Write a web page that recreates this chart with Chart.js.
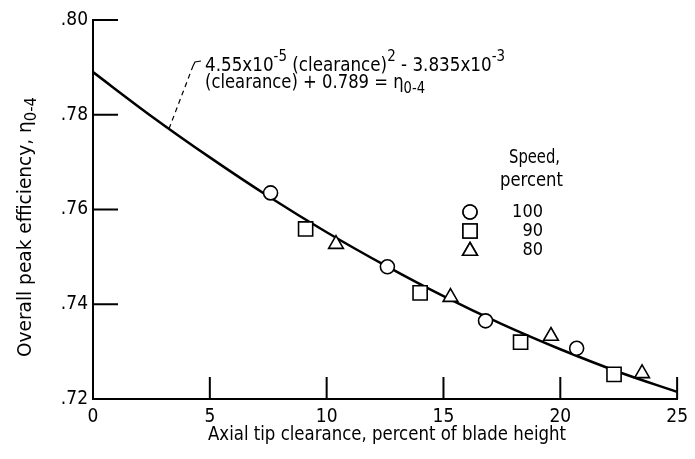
<!DOCTYPE html>
<html>
<head>
<meta charset="utf-8">
<script src="https://cdn.jsdelivr.net/npm/chart.js@4.4.1/dist/chart.umd.min.js"></script>
<style>
  html, body { margin: 0; padding: 0; background: #fff; }
  #wrap { width: 695px; height: 459px; }
</style>
</head>
<body>
<div id="wrap"><canvas id="chart" width="695" height="459"></canvas></div>
<script>
// fitted curve
const fitX = [0, 2.5, 5, 7.5, 10, 12.5, 15, 17.5, 20, 22.5, 25];
const fitY = [0.789, 0.7797, 0.7710, 0.7628, 0.7552, 0.7482, 0.7417, 0.7358, 0.7305, 0.7257, 0.7215];

// measured points by speed
const speed100X = [7.6, 12.6, 16.8, 20.7];
const speed100Y = [0.7635, 0.7479, 0.7365, 0.7307];
const speed90X = [9.1, 14.0, 18.3, 22.3];
const speed90Y = [0.7559, 0.7424, 0.7320, 0.7252];
const speed80X = [10.4, 15.3, 19.6, 23.5];
const speed80Y = [0.7527, 0.7415, 0.7333, 0.7254];

const legendLabels = ['100', '90', '80'];
const legendStyles = ['circle', 'rect', 'triangle'];
const legendRadius = [7, 10, 8.5];

const xTicks = [0, 5, 10, 15, 20, 25];
const yTicks = [0.72, 0.74, 0.76, 0.78, 0.80];

const FONT = '"DejaVu Sans Condensed", "Liberation Sans", sans-serif';

function pts(xs, ys) {
    return xs.map((x, i) => ({ x: x, y: ys[i] }));
}

function richWidth(ctx, parts, size) {
    let w = 0;
    parts.forEach(p => {
        const s = p.sup || p.sub ? size * 0.8 : size;
        ctx.font = s + 'px ' + FONT;
        w += ctx.measureText(p.t).width;
    });
    return w;
}

// draw normal / superscript / subscript pieces squeezed to a given width
function richText(ctx, parts, x, y, size, width) {
    const natural = richWidth(ctx, parts, size);
    const k = width ? width / natural : 1;
    ctx.save();
    ctx.translate(x, y);
    ctx.scale(k, 1);
    let cx = 0;
    parts.forEach(p => {
        const s = p.sup || p.sub ? size * 0.8 : size;
        ctx.font = s + 'px ' + FONT;
        let dy = 0;
        if (p.sup) dy = -size * 0.45;
        if (p.sub) dy = size * 0.3;
        ctx.fillText(p.t, cx, dy);
        cx += ctx.measureText(p.t).width;
    });
    ctx.restore();
}

const decor = {
    id: 'decor',
    afterDraw(chart) {
        const ctx = chart.ctx;
        const xs = chart.scales.x;
        const ys = chart.scales.y;
        const area = chart.chartArea;
        ctx.save();
        ctx.strokeStyle = '#000';
        ctx.fillStyle = '#000';

        // inner tick marks
        ctx.lineWidth = 2;
        ctx.beginPath();
        yTicks.slice(1).forEach(v => {
            const py = ys.getPixelForValue(v);
            ctx.moveTo(area.left, py);
            ctx.lineTo(area.left + 25, py);
        });
        xTicks.slice(1).forEach(v => {
            const px = xs.getPixelForValue(v);
            ctx.moveTo(px, area.bottom);
            ctx.lineTo(px, area.bottom - 22);
        });
        ctx.stroke();

        // dashed leader to the curve
        const lx = xs.getPixelForValue(3.25);
        const ly = ys.getPixelForValue(0.7770);
        ctx.lineWidth = 1.2;
        ctx.setLineDash([5, 4]);
        ctx.beginPath();
        ctx.moveTo(lx, ly);
        ctx.lineTo(193, 66);
        ctx.stroke();
        ctx.setLineDash([]);
        ctx.beginPath();
        ctx.moveTo(193, 66);
        ctx.lineTo(195, 62);
        ctx.lineTo(201, 61);
        ctx.stroke();

        // equation
        ctx.textBaseline = 'middle';
        ctx.textAlign = 'left';
        richText(ctx, [
            { t: '4.55x10' }, { t: '-5', sup: true }, { t: ' (clearance)' }, { t: '2', sup: true },
            { t: ' - 3.835x10' }, { t: '-3', sup: true }
        ], 205, 66, 19, 300);
        richText(ctx, [
            { t: '(clearance) + 0.789 = ' }, { t: 'η' }, { t: '0-4', sub: true }
        ], 205, 83, 19, 220);

        // legend
        ctx.textAlign = 'left';
        ctx.fillStyle = '#000';
        richText(ctx, [{ t: 'Speed,' }], 509, 158, 19, 51);
        richText(ctx, [{ t: 'percent' }], 500, 181, 19, 63);
        ctx.font = '18px ' + FONT;
        ctx.textAlign = 'right';
        legendLabels.forEach((lab, i) => {
            const yy = 212 + i * 19;
            ctx.fillStyle = '#000';
            ctx.fillText(lab, 543, yy);
            ctx.lineWidth = 1.6;
            ctx.fillStyle = '#fff';
            Chart.helpers.drawPoint(ctx, { pointStyle: legendStyles[i], radius: legendRadius[i], rotation: 0, borderWidth: 1.6 }, 470, yy + (i === 2 ? 1 : 0));
            ctx.fill();
            ctx.stroke();
        });

        // axis titles
        ctx.fillStyle = '#000';
        ctx.textAlign = 'left';
        richText(ctx, [{ t: 'Axial tip clearance, percent of blade height' }], 208, 435, 19, 358);

        ctx.translate(26, 357);
        ctx.rotate(-Math.PI / 2);
        richText(ctx, [{ t: 'Overall peak efficiency, ' }, { t: 'η' }, { t: '0-4', sub: true }], 0, 0, 19, 260);
        ctx.restore();
    }
};

const markerBase = {
    type: 'scatter',
    showLine: false,
    borderColor: '#000',
    backgroundColor: '#fff',
    borderWidth: 1.6,
    pointBorderWidth: 1.6
};

new Chart(document.getElementById('chart'), {
    type: 'scatter',
    data: {
        datasets: [
            {
                type: 'line',
                data: pts(fitX, fitY),
                borderColor: '#000',
                borderWidth: 2.5,
                pointRadius: 0,
                cubicInterpolationMode: 'monotone',
                fill: false,
                order: 2
            },
            Object.assign({}, markerBase, { data: pts(speed100X, speed100Y), pointStyle: 'circle', pointRadius: 7, order: 1 }),
            Object.assign({}, markerBase, { data: pts(speed90X, speed90Y), pointStyle: 'rect', pointRadius: 10, order: 1 }),
            Object.assign({}, markerBase, { data: pts(speed80X, speed80Y), pointStyle: 'triangle', pointRadius: 8.5, order: 1 })
        ]
    },
    options: {
        responsive: false,
        animation: false,
        layout: { padding: { top: 20, right: 11, left: 0, bottom: 0 } },
        plugins: {
            legend: { display: false },
            tooltip: { enabled: false }
        },
        scales: {
            x: {
                type: 'linear',
                min: 0,
                max: 25,
                afterFit(scale) { scale.height = 60; },
                afterBuildTicks(scale) { scale.ticks = xTicks.map(v => ({ value: v })); },
                grid: { display: false, drawTicks: false },
                border: { display: true, color: '#000', width: 2 },
                ticks: {
                    color: '#000',
                    padding: 7,
                    font: { family: FONT, size: 19 },
                    maxRotation: 0
                }
            },
            y: {
                type: 'linear',
                min: 0.72,
                max: 0.80,
                afterFit(scale) { scale.width = 93; },
                afterBuildTicks(scale) { scale.ticks = yTicks.map(v => ({ value: v })); },
                grid: { display: false, drawTicks: false },
                border: { display: true, color: '#000', width: 2 },
                ticks: {
                    color: '#000',
                    padding: 5,
                    font: { family: FONT, size: 19 },
                    callback: v => '.' + Math.round(v * 100)
                }
            }
        }
    },
    plugins: [decor]
});
</script>
</body>
</html>
